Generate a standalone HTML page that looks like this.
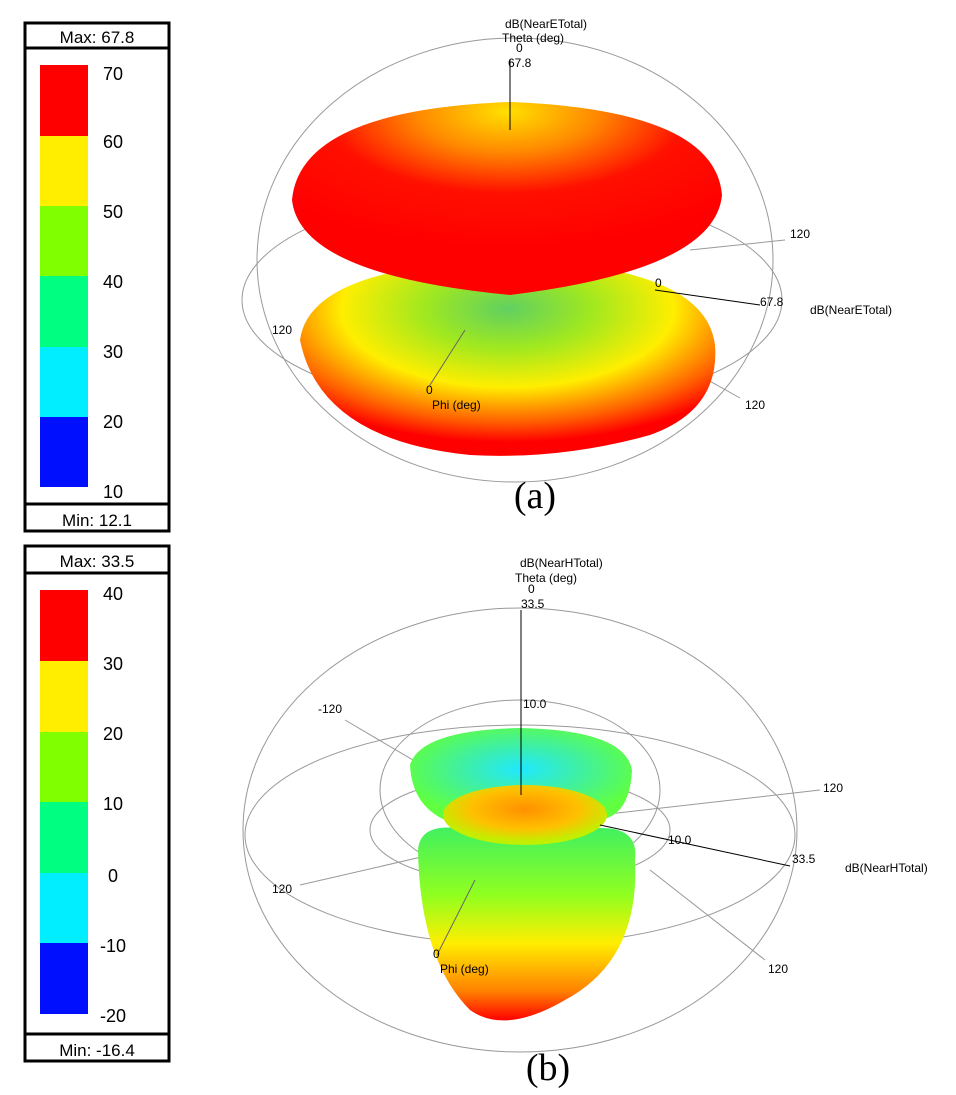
<!DOCTYPE html>
<html><head><meta charset="utf-8"><style>
body{margin:0;background:#fff;width:956px;height:1090px;overflow:hidden}
svg text{font-family:"Liberation Sans",sans-serif}
</style></head><body>
<svg width="956" height="1090" viewBox="0 0 956 1090" xmlns="http://www.w3.org/2000/svg">
<defs>
<radialGradient id="ga" cx="50%" cy="25%" r="80%">
<stop offset="0" stop-color="#60d060"/><stop offset="0.25" stop-color="#a0e820"/><stop offset="0.5" stop-color="#ffee00"/><stop offset="0.72" stop-color="#ff6000"/><stop offset="0.85" stop-color="#ff0000"/></radialGradient>
<radialGradient id="gtop" cx="50%" cy="5%" r="70%">
<stop offset="0" stop-color="#ffe000"/><stop offset="0.3" stop-color="#ff8800"/><stop offset="0.6" stop-color="#ff1000"/><stop offset="1" stop-color="#ff0000"/></radialGradient>
<radialGradient id="gcrown" cx="50%" cy="45%" r="55%">
<stop offset="0" stop-color="#20e8ff"/><stop offset="0.5" stop-color="#40f0a0"/><stop offset="1" stop-color="#60ff40"/></radialGradient>
<radialGradient id="gdisc" cx="50%" cy="40%" r="55%">
<stop offset="0" stop-color="#ff9000"/><stop offset="0.6" stop-color="#ffc000"/><stop offset="1" stop-color="#c0f000"/></radialGradient>
<linearGradient id="gbody" x1="0" y1="0" x2="0" y2="1">
<stop offset="0" stop-color="#40f060"/><stop offset="0.35" stop-color="#90ff20"/><stop offset="0.6" stop-color="#ffee00"/><stop offset="0.85" stop-color="#ff8000"/><stop offset="1" stop-color="#ff0000"/></linearGradient>
</defs>

<!-- legend a -->
<g stroke="#000" fill="none">
<rect x="25" y="23" width="144" height="508" stroke-width="3"/>
<line x1="25" y1="48" x2="169" y2="48" stroke-width="3"/>
<line x1="25" y1="504" x2="169" y2="504" stroke-width="3"/>
</g>
<text x="97" y="43" font-size="17" text-anchor="middle">Max: 67.8</text>
<text x="97" y="526" font-size="17" text-anchor="middle">Min: 12.1</text>
<rect x="40" y="65" width="48" height="71" fill="#ff0000"/>
<rect x="40" y="136" width="48" height="70" fill="#ffee00"/>
<rect x="40" y="206" width="48" height="70" fill="#80ff00"/>
<rect x="40" y="276" width="48" height="71" fill="#00ff80"/>
<rect x="40" y="347" width="48" height="70" fill="#00eeff"/>
<rect x="40" y="417" width="48" height="70" fill="#0010ff"/>
<g font-size="18" text-anchor="middle">
<text x="113" y="80">70</text><text x="113" y="148">60</text><text x="113" y="218">50</text><text x="113" y="288">40</text><text x="113" y="358">30</text><text x="113" y="428">20</text><text x="113" y="498">10</text></g>

<!-- legend b -->
<g stroke="#000" fill="none">
<rect x="25" y="546" width="144" height="515" stroke-width="3"/>
<line x1="25" y1="573" x2="169" y2="573" stroke-width="3"/>
<line x1="25" y1="1034" x2="169" y2="1034" stroke-width="3"/>
</g>
<text x="97" y="567" font-size="17" text-anchor="middle">Max: 33.5</text>
<text x="97" y="1056" font-size="17" text-anchor="middle">Min: -16.4</text>
<rect x="40" y="590" width="48" height="71" fill="#ff0000"/>
<rect x="40" y="661" width="48" height="71" fill="#ffee00"/>
<rect x="40" y="732" width="48" height="70" fill="#80ff00"/>
<rect x="40" y="802" width="48" height="71" fill="#00ff80"/>
<rect x="40" y="873" width="48" height="70" fill="#00eeff"/>
<rect x="40" y="943" width="48" height="71" fill="#0010ff"/>
<g font-size="18" text-anchor="middle">
<text x="113" y="600">40</text><text x="113" y="670">30</text><text x="113" y="740">20</text><text x="113" y="810">10</text><text x="113" y="882">0</text><text x="113" y="952">-10</text><text x="113" y="1022">-20</text></g>

<!-- chart a -->
<g fill="none" stroke="#999" stroke-width="1">
<ellipse cx="515" cy="260" rx="258" ry="222"/>
<ellipse cx="512" cy="300" rx="270" ry="110"/>
<line x1="690" y1="250" x2="785" y2="240"/>
<line x1="690" y1="370" x2="740" y2="398"/>
</g>
<path d="M300,340 Q310,265 510,260 Q705,265 715,345 Q720,410 650,435 Q560,460 470,455 Q320,440 300,340Z" fill="url(#ga)"/>
<path d="M292,200 Q300,110 510,102 Q715,110 722,195 Q715,270 510,295 Q300,275 292,200Z" fill="url(#gtop)"/>
<g stroke="#000" stroke-width="1">
<line x1="510" y1="60" x2="510" y2="130"/>
<line x1="655" y1="290" x2="760" y2="305"/>
<line x1="430" y1="385" x2="465" y2="330" stroke="#666"/>
</g>
<g font-size="12">
<text x="505" y="28">dB(NearETotal)</text><text x="502" y="42">Theta (deg)</text><text x="516" y="52">0</text><text x="508" y="67">67.8</text>
<text x="790" y="238">120</text><text x="655" y="287">0</text><text x="760" y="306">67.8</text><text x="810" y="314">dB(NearETotal)</text>
<text x="272" y="334">120</text><text x="426" y="394">0</text><text x="432" y="409">Phi (deg)</text><text x="745" y="409">120</text>
</g>
<text x="535" y="508" font-size="38" text-anchor="middle" style="font-family:'Liberation Serif',serif">(a)</text>

<!-- chart b -->
<g fill="none" stroke="#999" stroke-width="1">
<ellipse cx="520" cy="830" rx="277" ry="222"/>
<ellipse cx="520" cy="835" rx="275" ry="110"/>
<ellipse cx="520" cy="790" rx="140" ry="90"/>
<ellipse cx="520" cy="830" rx="150" ry="55"/>
<line x1="345" y1="720" x2="430" y2="770"/>
<line x1="600" y1="815" x2="820" y2="790"/>
<line x1="300" y1="885" x2="430" y2="855"/>
<line x1="650" y1="870" x2="765" y2="960"/>
</g>
<path d="M418,850 Q420,820 470,830 L580,830 Q640,820 635,860 Q640,960 565,1000 Q505,1035 470,1010 Q420,960 418,850Z" fill="url(#gbody)"/>
<path d="M410,765 Q420,730 520,728 Q625,730 632,770 Q630,815 600,820 L445,820 Q412,805 410,765Z" fill="url(#gcrown)"/>
<ellipse cx="525" cy="815" rx="82" ry="30" fill="url(#gdisc)"/>
<g stroke="#000" stroke-width="1">
<line x1="521" y1="610" x2="521" y2="795"/>
<line x1="600" y1="825" x2="790" y2="866"/>
<line x1="437" y1="955" x2="475" y2="880" stroke="#666"/>
</g>
<g font-size="12">
<text x="520" y="567">dB(NearHTotal)</text><text x="515" y="582">Theta (deg)</text><text x="528" y="593">0</text><text x="521" y="608">33.5</text>
<text x="523" y="708">10.0</text><text x="318" y="713">-120</text><text x="823" y="792">120</text>
<text x="668" y="844">10.0</text><text x="792" y="863">33.5</text><text x="845" y="872">dB(NearHTotal)</text>
<text x="272" y="893">120</text><text x="433" y="958">0</text><text x="440" y="973">Phi (deg)</text><text x="768" y="973">120</text>
</g>
<text x="548" y="1080" font-size="38" text-anchor="middle" style="font-family:'Liberation Serif',serif">(b)</text>
</svg>
</body></html>
